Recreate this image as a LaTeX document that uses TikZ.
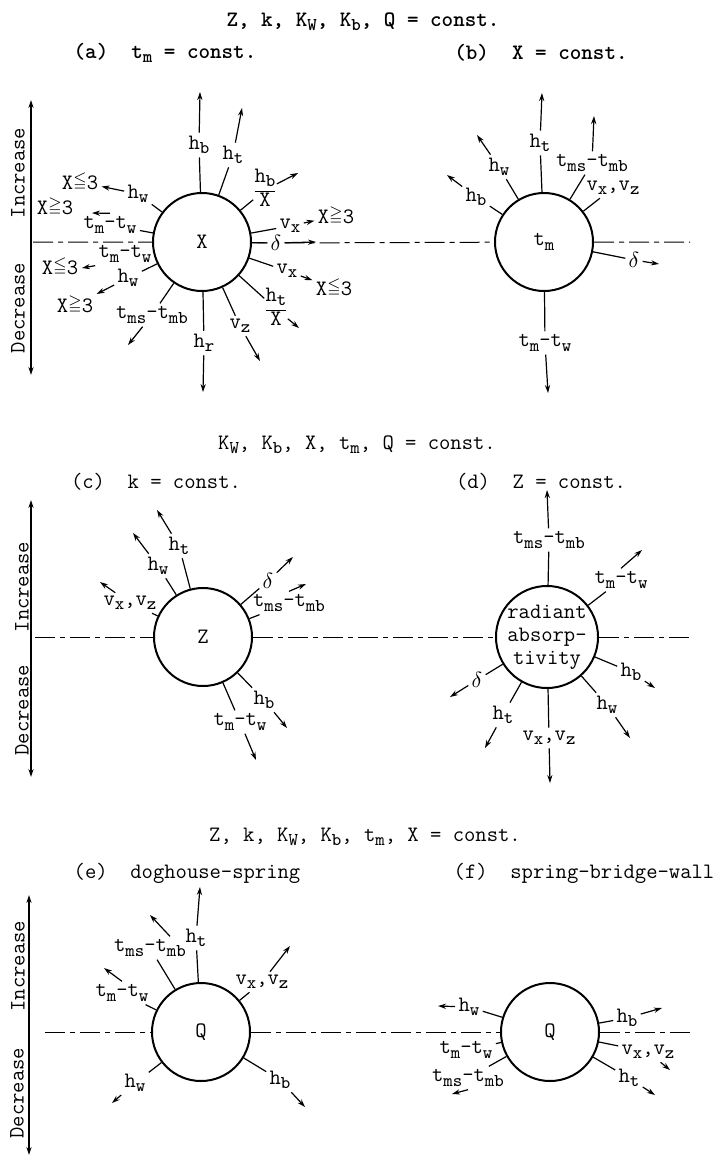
\documentclass[tikz,border=0pt]{standalone}
\usepackage{amssymb}
\usepackage{fontspec}
\usepackage{tikz}
\usetikzlibrary{arrows.meta}
\newcommand{\ix}[1]{\raisebox{-0.45ex}{\fontsize{9}{9}\selectfont #1}}
\newcommand{\geqx}{\raisebox{0.35ex}{$\scriptstyle\geqq$}}
\newcommand{\leqx}{\raisebox{0.35ex}{$\scriptstyle\leqq$}}
\newcommand{\ovr}[2]{{\renewcommand{\arraystretch}{0.95}\begin{tabular}{@{}c@{}}#1\\[1pt]\hline #2\end{tabular}}}

\begin{document}
\begin{tikzpicture}[
    x=0.5pt, y=-0.5pt,
    every node/.style={font=\ttfamily\fontsize{11}{11.5}\selectfont, inner sep=1.5pt},
    head/.style={font=\ttfamily\bfseries\fontsize{11}{11.5}\selectfont},
    ball/.style={circle, draw, line width=1pt, minimum size=49pt, inner sep=0pt},
    frac/.style={inner sep=0.5pt},
    side/.style={rotate=90},
    spk/.style={line width=0.6pt},
    arr/.style={-{Stealth[length=4pt,width=2.6pt]}, line width=0.6pt},
    axis/.style={{Stealth[length=4pt,width=2.6pt]}-{Stealth[length=4pt,width=2.6pt]}, line width=0.7pt},
    dsh/.style={line width=0.5pt, dash pattern=on 10pt off 2.5pt on 2.5pt off 2.5pt}
  ]
  \useasboundingbox (0,0) rectangle (724,1163);

  \node[head] (top1) at (363,22) {Z, k, K\ix{W}, K\ix{b}, Q = const.};
  \node[head] (capa) at (165,53) {(a)~~t\ix{m} = const.};
  \node[head] (capb) at (541,53) {(b)~~X = const.};

  \coordinate (ax-a1) at (31,100);
  \coordinate (ax-a2) at (31,375);
  \draw[axis] (ax-a1) -- (ax-a2);
  \node[side] (inc-a) at (18,173) {Increase};
  \node[side] (dec-a) at (18,308) {Decrease};

  \node[ball] (X) at (202,242) {X};
  \node (a-hb) at (199,145) {h\ix{b}};
  \coordinate (a-hbT) at (200,92);
  \node (a-ht) at (233,155) {h\ix{t}};
  \coordinate (a-htT) at (242,108);
  \node[frac] (a-hbx) at (265,190) {\ovr{h\ix{b}}{X}};
  \coordinate (a-hbxT) at (298,173);
  \node (a-vx1) at (290,226) {v\ix{x}};
  \node (a-g1) at (336,216) {X\geqx3};
  \node[fill=white] (a-dl) at (276,243) {$\delta$};
  \coordinate (a-dlT) at (316,242);
  \node (a-vx2) at (287,271) {v\ix{x}};
  \node (a-l1) at (334,288) {X\leqx3};
  \node[frac] (a-htx) at (276,309) {\ovr{h\ix{t}}{X}};
  \coordinate (a-htxT) at (299,328);
  \node (a-vz) at (240,326) {v\ix{z}};
  \coordinate (a-vzT) at (260,361);
  \node (a-hr) at (204,343) {h\ix{r}};
  \coordinate (a-hrT) at (203,392);
  \node (a-tms) at (152,315) {t\ix{ms}-t\ix{mb}};
  \coordinate (a-tmsT) at (128,345);
  \node (a-hw2) at (128,278) {h\ix{w}};
  \node (a-g3) at (75,305) {X\geqx3};
  \node (a-tt2) at (125,254) {t\ix{m}-t\ix{w}};
  \coordinate (a-tt2T) at (82,268);
  \node (a-l3) at (60,267) {X\leqx3};
  \node (a-tt1) at (110,225) {t\ix{m}-t\ix{w}};
  \coordinate (a-tt1T) at (92,213);
  \node (a-g2) at (55,207) {X\geqx3};
  \node (a-hw1) at (138,194) {h\ix{w}};
  \node (a-l2) at (80,182) {X\leqx3};

  \node[ball] (tm) at (544,242) {t\ix{m}};
  \node (b-ht) at (540,143) {h\ix{t}};
  \coordinate (b-htT) at (542,93);
  \node (b-tms) at (592,163) {t\ix{ms}-t\ix{mb}};
  \coordinate (b-tmsT) at (594,116);
  \node (b-vv) at (613,188) {v\ix{x},v\ix{z}};
  \node (b-dl) at (634,260) {$\delta$};
  \coordinate (b-dlT) at (659,264);
  \node (b-tt) at (545,343) {t\ix{m}-t\ix{w}};
  \coordinate (b-ttT) at (548,393);
  \node (b-hw) at (499,167) {h\ix{w}};
  \coordinate (b-hwT) at (477,135);
  \node (b-hb) at (476,197) {h\ix{b}};
  \coordinate (b-hbT) at (447,175);

  \coordinate (da1) at (33,242);
  \coordinate (da2) at (690,242);
  \draw[dsh] (da1) -- (X) -- (a-dl) -- (tm) -- (da2);

  \draw[spk] (X) -- (a-hb);
  \draw[spk] (X) -- (a-ht);
  \draw[spk] (X) -- (a-hbx);
  \draw[spk] (X) -- (a-vx1);
  \draw[spk] (X) -- (a-dl);
  \draw[spk] (X) -- (a-vx2);
  \draw[spk] (X) -- (a-htx);
  \draw[spk] (X) -- (a-vz);
  \draw[spk] (X) -- (a-hr);
  \draw[spk] (X) -- (a-tms);
  \draw[spk] (X) -- (a-hw2);
  \draw[spk] (X) -- (a-tt1);
  \draw[spk] (X) -- (a-hw1);
  \draw[arr] (a-hb) -- (a-hbT);
  \draw[arr] (a-ht) -- (a-htT);
  \draw[arr] (a-hbx) -- (a-hbxT);
  \draw[arr] (a-vx1) -- (a-g1);
  \draw[arr] (a-dl) -- (a-dlT);
  \draw[arr] (a-vx2) -- (a-l1);
  \draw[arr] (a-htx) -- (a-htxT);
  \draw[arr] (a-vz) -- (a-vzT);
  \draw[arr] (a-hr) -- (a-hrT);
  \draw[arr] (a-tms) -- (a-tmsT);
  \draw[arr] (a-hw2) -- (a-g3);
  \draw[arr] (a-tt2.south west) -- (a-tt2T);
  \draw[arr] (a-tt1.north) -- (a-tt1T);
  \draw[arr] (a-hw1) -- (a-l2);

  \draw[spk] (tm) -- (b-ht);
  \draw[spk] (tm) -- (b-tms);
  \draw[spk] (tm) -- (b-vv);
  \draw[spk] (tm) -- (b-dl);
  \draw[spk] (tm) -- (b-tt);
  \draw[spk] (tm) -- (b-hw);
  \draw[spk] (tm) -- (b-hb);
  \draw[arr] (b-ht) -- (b-htT);
  \draw[arr] (b-tms) -- (b-tmsT);
  \draw[arr] (b-dl) -- (b-dlT);
  \draw[arr] (b-tt) -- (b-ttT);
  \draw[arr] (b-hw) -- (b-hwT);
  \draw[arr] (b-hb) -- (b-hbT);

  \node (top2) at (357,445) {K\ix{W}, K\ix{b}, X, t\ix{m}, Q = const.};
  \node (capc) at (156,482) {(c)~~k = const.};
  \node (capd) at (541,482) {(d)~~Z = const.};

  \coordinate (ax-c1) at (31,500);
  \coordinate (ax-c2) at (31,777);
  \draw[axis] (ax-c1) -- (ax-c2);
  \node[side] (inc-c) at (22,587) {Increase};
  \node[side] (dec-c) at (22,710) {Decrease};

  \node[ball] (Z) at (203,637) {Z};
  \node (c-ht) at (179,546) {h\ix{t}};
  \coordinate (c-htT) at (157,510);
  \node (c-hw) at (158,566) {h\ix{w}};
  \coordinate (c-hwT) at (133,533);
  \node (c-vv) at (130,603) {v\ix{x},v\ix{z}};
  \coordinate (c-vvT) at (100,582);
  \node (c-dl) at (268,581) {$\delta$};
  \coordinate (c-dlT) at (293,557);
  \node (c-tms) at (289,603) {t\ix{ms}-t\ix{mb}};
  \coordinate (c-tmsT) at (306,584);
  \node (c-hb) at (264,700) {h\ix{b}};
  \coordinate (c-hbT) at (287,728);
  \node (c-tt) at (240,722) {t\ix{m}-t\ix{w}};
  \coordinate (c-ttT) at (256,760);

  \node[ball, align=center] (rad) at (547,637) {radiant\\absorp-\\tivity};
  \node (d-tms) at (549,540) {t\ix{ms}-t\ix{mb}};
  \coordinate (d-tmsT) at (547,490);
  \node (d-tt) at (621,580) {t\ix{m}-t\ix{w}};
  \coordinate (d-ttT) at (642,550);
  \node (d-hb) at (631,672) {h\ix{b}};
  \coordinate (d-hbT) at (655,688);
  \node (d-hw) at (607,705) {h\ix{w}};
  \coordinate (d-hwT) at (630,738);
  \node (d-vv) at (549,738) {v\ix{x},v\ix{z}};
  \coordinate (d-vvT) at (550,783);
  \node (d-ht) at (503,715) {h\ix{t}};
  \coordinate (d-htT) at (485,748);
  \node (d-dl) at (477,680) {$\delta$};
  \coordinate (d-dlT) at (450,697);

  \coordinate (dc1) at (35,637);
  \coordinate (dc2) at (690,637);
  \draw[dsh] (dc1) -- (Z) -- (rad) -- (dc2);

  \draw[spk] (Z) -- (c-ht);
  \draw[spk] (Z) -- (c-hw);
  \draw[spk] (Z) -- (c-vv);
  \draw[spk] (Z) -- (c-dl);
  \draw[spk] (Z) -- (c-tms);
  \draw[spk] (Z) -- (c-hb);
  \draw[spk] (Z) -- (c-tt);
  \draw[arr] (c-ht) -- (c-htT);
  \draw[arr] (c-hw) -- (c-hwT);
  \draw[arr] (c-vv) -- (c-vvT);
  \draw[arr] (c-dl) -- (c-dlT);
  \draw[arr] (c-tms.north) -- (c-tmsT);
  \draw[arr] (c-hb) -- (c-hbT);
  \draw[arr] (c-tt) -- (c-ttT);

  \draw[spk] (rad) -- (d-tms);
  \draw[spk] (rad) -- (d-tt);
  \draw[spk] (rad) -- (d-hb);
  \draw[spk] (rad) -- (d-hw);
  \draw[spk] (rad) -- (d-vv);
  \draw[spk] (rad) -- (d-ht);
  \draw[spk] (rad) -- (d-dl);
  \draw[arr] (d-tms) -- (d-tmsT);
  \draw[arr] (d-tt.north) -- (d-ttT);
  \draw[arr] (d-hb) -- (d-hbT);
  \draw[arr] (d-hw) -- (d-hwT);
  \draw[arr] (d-vv) -- (d-vvT);
  \draw[arr] (d-ht) -- (d-htT);
  \draw[arr] (d-dl) -- (d-dlT);

  \node (top3) at (365,837) {Z, k, K\ix{W}, K\ix{b}, t\ix{m}, X = const.};
  \node (cape) at (187,873) {(e)~~doghouse-spring};
  \node (capf) at (584,873) {(f)~~spring-bridge-wall};

  \coordinate (ax-e1) at (29,895);
  \coordinate (ax-e2) at (29,1155);
  \draw[axis] (ax-e1) -- (ax-e2);
  \node[side] (inc-e) at (18,966) {Increase};
  \node[side] (dec-e) at (17,1093) {Decrease};

  \node[ball] (Qe) at (201,1032) {Q};
  \node (e-ht) at (196,938) {h\ix{t}};
  \coordinate (e-htT) at (200,887);
  \node (e-tms) at (150,948) {t\ix{ms}-t\ix{mb}};
  \coordinate (e-tmsT) at (150,915);
  \node (e-tt) at (122,993) {t\ix{m}-t\ix{w}};
  \coordinate (e-ttT) at (104,968);
  \node (e-vv) at (262,982) {v\ix{x},v\ix{z}};
  \coordinate (e-vvT) at (290,946);
  \node (e-hw) at (135,1083) {h\ix{w}};
  \coordinate (e-hwT) at (112,1103);
  \node (e-hb) at (280,1080) {h\ix{b}};
  \coordinate (e-hbT) at (305,1107);

  \node[ball] (Qf) at (550,1032) {Q};
  \node (f-hw) at (469,1007) {h\ix{w}};
  \coordinate (f-hwT) at (438,1006);
  \node (f-hb) at (627,1018) {h\ix{b}};
  \coordinate (f-hbT) at (662,1008);
  \node (f-vv) at (648,1052) {v\ix{x},v\ix{z}};
  \coordinate (f-vvT) at (670,1070);
  \node (f-ht) at (629,1078) {h\ix{t}};
  \coordinate (f-htT) at (655,1095);
  \node (f-tt) at (466,1050) {t\ix{m}-t\ix{w}};
  \node (f-tms) at (468,1078) {t\ix{ms}-t\ix{mb}};
  \coordinate (f-tmsT) at (452,1094);

  \coordinate (de1) at (45,1032);
  \coordinate (de2) at (695,1032);
  \draw[dsh] (de1) -- (Qe) -- (Qf) -- (de2);

  \draw[spk] (Qe) -- (e-ht);
  \draw[spk] (Qe) -- (e-tms);
  \draw[spk] (Qe) -- (e-tt);
  \draw[spk] (Qe) -- (e-vv);
  \draw[spk] (Qe) -- (e-hw);
  \draw[spk] (Qe) -- (e-hb);
  \draw[arr] (e-ht) -- (e-htT);
  \draw[arr] ([xshift=10pt]e-tms.north) -- (e-tmsT);
  \draw[arr] (e-tt.north) -- (e-ttT);
  \draw[arr] (e-vv) -- (e-vvT);
  \draw[arr] (e-hw) -- (e-hwT);
  \draw[arr] (e-hb) -- (e-hbT);

  \draw[spk] (Qf) -- (f-hw);
  \draw[spk] (Qf) -- (f-hb);
  \draw[spk] (Qf) -- (f-vv);
  \draw[spk] (Qf) -- (f-ht);
  \draw[spk] (Qf) -- (f-tt);
  \draw[spk] (Qf) -- (f-tms);
  \draw[arr] (f-hw) -- (f-hwT);
  \draw[arr] (f-hb) -- (f-hbT);
  \draw[arr] (f-vv) -- (f-vvT);
  \draw[arr] (f-ht) -- (f-htT);
  \draw[arr] (f-tms.south) -- (f-tmsT);
\end{tikzpicture}
\end{document}
